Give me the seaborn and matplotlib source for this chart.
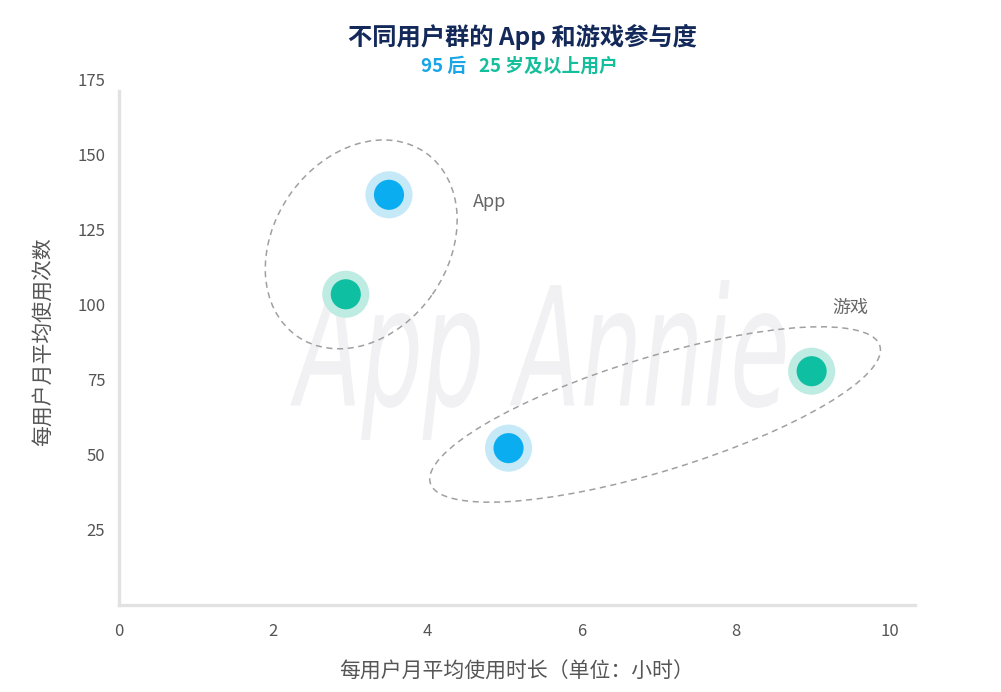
import pandas as pd
import matplotlib.pyplot as plt
import seaborn as sns
from matplotlib.patches import Ellipse, PathPatch
from matplotlib.textpath import TextPath
from matplotlib.font_manager import FontProperties
from matplotlib.transforms import Affine2D, ScaledTranslation

# data
segments = ['95 后', '25 岁及以上用户', '95 后', '25 岁及以上用户']
categories = ['App', 'App', '游戏', '游戏']
hours = [3.5, 2.94, 5.05, 8.98]
sessions = [136.5, 103.4, 52.2, 77.8]

x_ticks = [0, 2, 4, 6, 8, 10]
y_ticks = [25, 50, 75, 100, 125, 150, 175]

seg_colors = {'95 后': '#0aaef0', '25 岁及以上用户': '#0fbfa2'}
halo_colors = {'95 后': '#c6e9f8', '25 岁及以上用户': '#bfece2'}

df = pd.DataFrame({'segment': segments, 'category': categories,
                   'hours': hours, 'sessions': sessions})

sns.set_theme(style='white')
plt.rcParams['font.family'] = ['Noto Sans CJK SC', 'DejaVu Sans']

fig = plt.figure(figsize=(10.01, 6.92), dpi=100)
ax = fig.add_axes([0.1189, 0.1257, 0.7952, 0.760])

# faint watermark
wm = TextPath((0, 0), 'App Annie', size=1,
              prop=FontProperties(family='DejaVu Sans', style='italic'))
bb = wm.get_extents()
x0, x1, y0, y1 = 0.215, 0.837, 0.314, 0.618
wm_tr = (Affine2D().translate(-bb.x0, -bb.y0)
         .scale((x1 - x0) / bb.width, (y1 - y0) / bb.height)
         .translate(x0, y0) + ax.transAxes)
ax.add_patch(PathPatch(wm, transform=wm_tr, facecolor='#f1f1f3',
                       edgecolor='none', zorder=0))

# halos then dots
sns.scatterplot(data=df, x='hours', y='sessions', hue='segment',
                palette=halo_colors, s=1150, linewidth=0, legend=False,
                ax=ax, zorder=3)
sns.scatterplot(data=df, x='hours', y='sessions', hue='segment',
                palette=seg_colors, s=470, linewidth=0, legend=False,
                ax=ax, zorder=4)

# dashed group outlines (centre in data, size in inches)
groups = [((3.14, 120.0), 2.24, 1.74, 55), ((6.95, 63.4), 4.70, 1.14, 17)]
for (cx, cy), w, h, ang in groups:
    tr = fig.dpi_scale_trans + ScaledTranslation(cx, cy, ax.transData)
    ax.add_patch(Ellipse((0, 0), w, h, angle=ang, transform=tr,
                         fill=False, edgecolor='#a0a0a0', lw=1.1,
                         linestyle=(0, (4, 3)), zorder=2))

ax.text(4.81, 134, 'App', fontsize=13, color='#666666', va='center', ha='center')
ax.text(9.48, 99, '游戏', fontsize=13, color='#666666', va='center', ha='center')

ax.set_xlim(0, 10.32)
ax.set_ylim(0, 175)
ax.set_xticks(x_ticks)
ax.set_yticks(y_ticks)
ax.tick_params(axis='both', length=0, labelsize=12, labelcolor='#555555')
ax.tick_params(axis='x', pad=13)
ax.tick_params(axis='y', pad=10)

for side in ['top', 'right']:
    ax.spines[side].set_visible(False)
for side in ['left', 'bottom']:
    ax.spines[side].set_color('#e2e2e2')
    ax.spines[side].set_linewidth(2.4)
ax.spines['left'].set_bounds(0, 171)

ax.set_xlabel('每用户月平均使用时长（单位：小时）', fontsize=15,
              color='#555555', labelpad=15)
ax.set_ylabel('每用户月平均使用次数', fontsize=15, color='#555555', labelpad=17)

fig.text(0.522, 0.946, '不同用户群的 App 和游戏参与度', fontsize=17.5,
         fontweight='bold', color='#13295a', ha='center', va='center')
fig.text(0.4655, 0.904, '95 后', fontsize=13.5, fontweight='bold',
         color='#1aa6e6', ha='right', va='center')
fig.text(0.4785, 0.904, '25 岁及以上用户', fontsize=13.5, fontweight='bold',
         color='#16bf9c', ha='left', va='center')

fig.savefig('out.png', dpi=100, facecolor='white')
